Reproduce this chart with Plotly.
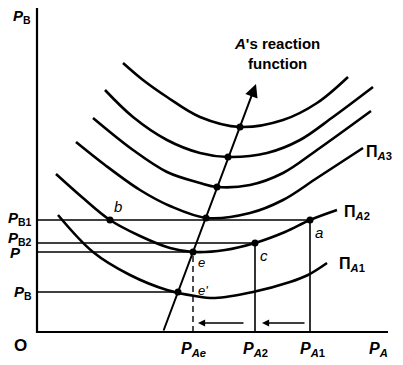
import plotly.graph_objects as go

# ---- data (diagram units: P_A horizontal, P_B vertical) ----
curve6_x = [86, 106, 130, 163, 203, 246, 280, 311]
curve6_y = [269, 252, 235, 215, 205, 212, 229, 255]
curve5_x = [68, 96, 130, 163, 191, 230, 263, 296, 336]
curve5_y = [242, 215, 192, 179, 175, 179, 192, 215, 245]
curve4_x = [56, 96, 130, 163, 180, 213, 246, 280, 334]
curve4_y = [214, 182, 160, 149, 145, 147, 159, 182, 221]
pa3_x = [39, 68, 103, 133, 170, 213, 246, 280, 326]
pa3_y = [190, 167, 142, 126, 114, 119, 132, 154, 184]
pa2_x = [19, 46, 73, 103, 133, 156, 188, 218, 248, 273, 300]
pa2_y = [158, 134, 112, 96, 84, 80, 82, 89, 100, 112, 122]
pa1_x = [21, 56, 93, 130, 158, 178, 216, 253, 271, 290]
pa1_y = [117, 80, 57, 42, 36, 34, 40, 50, 57, 69]

reaction_x = [126, 219]
reaction_y = [0, 248]

# price levels
PB1, PB2, P_lvl, PB = 112, 89, 80, 40
PAe, PA2, PA1 = 156, 218, 273

# marked points
tan_x = [203, 191, 180, 169, 156, 141]
tan_y = [205, 175, 145, 114, 80, 40]
b_pt = (73, 112)
c_pt = (PA2, PB2)
a_pt = (PA1, PB1)

x_axis_end = 351
y_axis_end = 324

FONT = "Liberation Sans"
fig = go.Figure()

curve_style = dict(color="black", width=2.6, shape="spline", smoothing=1.0)
for cx, cy in [(curve6_x, curve6_y), (curve5_x, curve5_y), (curve4_x, curve4_y),
               (pa3_x, pa3_y), (pa2_x, pa2_y), (pa1_x, pa1_y)]:
    fig.add_trace(go.Scatter(x=cx, y=cy, mode="lines", line=curve_style,
                             hoverinfo="skip", showlegend=False))

thin = dict(color="black", width=1.6)
# horizontal price lines
fig.add_trace(go.Scatter(x=[0, a_pt[0]], y=[PB1, PB1], mode="lines", line=thin, showlegend=False))
fig.add_trace(go.Scatter(x=[0, c_pt[0]], y=[PB2, PB2], mode="lines", line=thin, showlegend=False))
fig.add_trace(go.Scatter(x=[0, PAe], y=[P_lvl, P_lvl], mode="lines", line=thin, showlegend=False))
fig.add_trace(go.Scatter(x=[0, tan_x[-1]], y=[PB, PB], mode="lines", line=thin, showlegend=False))
# vertical lines
fig.add_trace(go.Scatter(x=[PA2, PA2], y=[0, PB2], mode="lines", line=thin, showlegend=False))
fig.add_trace(go.Scatter(x=[PA1, PA1], y=[0, PB1], mode="lines", line=thin, showlegend=False))
fig.add_trace(go.Scatter(x=[PAe, PAe], y=[0, P_lvl], mode="lines",
                         line=dict(color="black", width=1.4, dash="6px,4px"), showlegend=False))

# axes
fig.add_trace(go.Scatter(x=[0, 0, x_axis_end], y=[y_axis_end, 0, 0], mode="lines",
                         line=dict(color="black", width=2.2), showlegend=False))

# dots
fig.add_trace(go.Scatter(x=tan_x + [b_pt[0], c_pt[0], a_pt[0]],
                         y=tan_y + [b_pt[1], c_pt[1], a_pt[1]],
                         mode="markers", marker=dict(color="black", size=7), showlegend=False))

# reaction function arrow
fig.add_annotation(x=reaction_x[1], y=reaction_y[1], ax=reaction_x[0], ay=reaction_y[0],
                   xref="x", yref="y", axref="x", ayref="y", text="", showarrow=True,
                   arrowhead=2, arrowsize=1.3, arrowwidth=2, arrowcolor="black")
# adjustment arrows
for x0, x1 in [(PA2 - 10, PAe + 5), (PA1 - 4, PA2 + 7)]:
    fig.add_annotation(x=x1, y=9, ax=x0, ay=9, xref="x", yref="y", axref="x", ayref="y",
                       text="", showarrow=True, arrowhead=2, arrowsize=1.1, arrowwidth=1.3,
                       arrowcolor="black")

def label(x, y, text, size=15, xanchor="center", yanchor="middle"):
    fig.add_annotation(x=x, y=y, text=text, showarrow=False, xanchor=xanchor, yanchor=yanchor,
                       font=dict(family=FONT, size=size, color="black"))

label(-15, 316, "<b><i>P</i><sub>B</sub></b>")
label(195, 279, "<b><i>A</i>'s reaction<br>function</b>", size=15, xanchor="left")
label(327, 180, "<b>Π<sub><i>A</i>3</sub></b>", size=16, xanchor="left")
label(305, 120, "<b>Π<sub><i>A</i>2</sub></b>", size=16, xanchor="left")
label(300, 68, "<b>Π<sub><i>A</i>1</sub></b>", size=16, xanchor="left")
label(81, 126, "<i>b</i>", size=15)
label(282, 100, "<i>a</i>", size=15)
label(227, 77, "<i>c</i>", size=15)
label(164, 70, "<i>e</i>", size=13)
label(166, 42, "<i>e'</i>", size=13)
label(-3, PB1 + 2, "<b><i>P</i><sub>B1</sub></b>", xanchor="right")
label(-3, PB2 + 5, "<b><i>P</i><sub>B2</sub></b>", xanchor="right")
label(-14, P_lvl, "<b><i>P</i></b>", xanchor="right")
label(-3, PB, "<b><i>P</i><sub>B</sub></b>", xanchor="right")
label(-17, -13, "<b>O</b>", size=17)
label(PAe, -17, "<b><i>P</i><sub><i>Ae</i></sub></b>", size=16)
label(PA2, -17, "<b><i>P</i><sub><i>A</i>2</sub></b>", size=16)
label(PA1 + 2, -17, "<b><i>P</i><sub><i>A</i>1</sub></b>", size=16)
label(341, -17, "<b><i>P</i><sub><i>A</i></sub></b>", size=16)

# page body has an 8px default margin: size the figure to fill the rest of the window
fig.update_layout(
    width=395, height=357,
    margin=dict(l=0, r=0, t=0, b=0),
    plot_bgcolor="white", paper_bgcolor="white",
    xaxis=dict(range=[-29, 366], visible=False, fixedrange=True),
    yaxis=dict(range=[-33, 324], visible=False, fixedrange=True),
    showlegend=False,
)
fig.write_html("out.html")
